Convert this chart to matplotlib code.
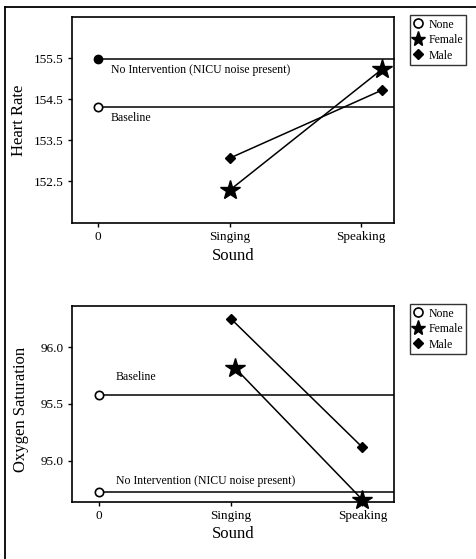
import matplotlib
matplotlib.use("Agg")
import matplotlib.pyplot as plt
from matplotlib.lines import Line2D

plt.rcParams['font.family'] = ['Liberation Serif', 'DejaVu Serif']

# ---- data ----
sound_ticks = [0, 1, 2]
sound_labels = ["0", "Singing", "Speaking"]

# Heart rate
hr_baseline = 154.30
hr_no_intervention = 155.47
hr_female_x = [1.0, 2.16]
hr_female = [152.28, 155.23]
hr_male_x = [1.0, 2.16]
hr_male = [153.06, 154.72]
hr_yticks = [152.5, 153.5, 154.5, 155.5]

# Oxygen saturation
o2_baseline = 95.58
o2_no_intervention = 94.73
o2_female_x = [1.03, 2.0]
o2_female = [95.82, 94.66]
o2_male_x = [1.0, 2.0]
o2_male = [96.25, 95.12]
o2_yticks = [95.0, 95.5, 96.0]

W, H = 476, 559
fig = plt.figure(figsize=(W / 100, H / 100), dpi=100)


def px_axes(left, top, right, bottom):
    return fig.add_axes([left / W, 1 - bottom / H, (right - left) / W, (bottom - top) / H])


def style(ax, ylabel, label_xy, yticks, fmt):
    for s in ax.spines.values():
        s.set_linewidth(1.2)
    ax.set_xticks(sound_ticks)
    ax.set_xticklabels(sound_labels)
    ax.set_yticks(yticks)
    ax.set_yticklabels([fmt.format(v) for v in yticks])
    ax.tick_params(direction='out', length=3, width=1, labelsize=9.5, pad=3)
    ax.set_xlabel("Sound", fontsize=12, labelpad=3)
    ax.set_ylabel(ylabel, fontsize=12)
    ax.yaxis.set_label_coords(*label_xy)


lw = 1.1
note_fs = 8.5

# ---- Heart rate panel ----
ax1 = px_axes(72, 17, 394, 223)
ax1.set_xlim(-0.2, 2.25)
ax1.set_ylim(151.48, 156.5)
ax1.plot([0, 2.25], [hr_no_intervention] * 2, color='black', lw=lw, marker='o',
         markevery=[0], ms=6, mfc='black', mec='black', clip_on=False)
ax1.plot([0, 2.25], [hr_baseline] * 2, color='black', lw=lw, marker='o',
         markevery=[0], ms=6, mfc='white', mec='black', mew=1.2)
ax1.plot(hr_male_x, hr_male, color='black', lw=lw, marker='D', ms=5, mfc='black')
ax1.plot(hr_female_x, hr_female, color='black', lw=lw, marker='*', ms=15, mfc='black')
ax1.annotate("No Intervention (NICU noise present)", (0, hr_no_intervention),
             xytext=(9, -8), textcoords='offset points', fontsize=note_fs,
             va='center', ha='left')
ax1.annotate("Baseline", (0, hr_baseline), xytext=(9, -8), textcoords='offset points',
             fontsize=note_fs, va='center', ha='left')
style(ax1, "Heart Rate", (-0.14, 0.5), hr_yticks, "{:.1f}")

# ---- Oxygen saturation panel ----
ax2 = px_axes(72, 306, 394, 502)
ax2.set_xlim(-0.205, 2.24)
ax2.set_ylim(94.64, 96.36)
ax2.plot([0, 2.24], [o2_baseline] * 2, color='black', lw=lw, marker='o',
         markevery=[0], ms=6, mfc='white', mec='black', mew=1.2)
ax2.plot([0, 2.24], [o2_no_intervention] * 2, color='black', lw=lw, marker='o',
         markevery=[0], ms=6, mfc='white', mec='black', mew=1.2)
ax2.plot(o2_male_x, o2_male, color='black', lw=lw, marker='D', ms=5, mfc='black')
ax2.plot(o2_female_x, o2_female, color='black', lw=lw, marker='*', ms=15, mfc='black',
         clip_on=False)
ax2.annotate("Baseline", (0, o2_baseline), xytext=(12, 13), textcoords='offset points',
             fontsize=note_fs, va='center', ha='left')
ax2.annotate("No Intervention (NICU noise present)", (0, o2_no_intervention),
             xytext=(12, 8), textcoords='offset points', fontsize=note_fs,
             va='center', ha='left')
style(ax2, "Oxygen Saturation", (-0.135, 0.47), o2_yticks, "{:.1f}")

# ---- legends ----
handles = [
    Line2D([], [], ls='none', marker='o', ms=6.5, mfc='white', mec='black', mew=1.2),
    Line2D([], [], ls='none', marker='*', ms=11, mfc='black', mec='black'),
    Line2D([], [], ls='none', marker='D', ms=5.5, mfc='black', mec='black'),
]
names = ["None", "Female", "Male"]
for top in (15, 304):
    leg = fig.legend(handles, names, loc='upper left',
                     bbox_to_anchor=(410 / W, 1 - top / H), fontsize=8.5,
                     frameon=True, fancybox=False, edgecolor='black',
                     handlelength=0.8, handletextpad=0.45, borderpad=0.3,
                     labelspacing=0.3, borderaxespad=0)
    leg.get_frame().set_linewidth(1.0)

# ---- page frame ----
fig.add_artist(Line2D([5 / W, 5 / W], [0, 1 - 7 / H], color='black', lw=1.3,
                      transform=fig.transFigure))
fig.add_artist(Line2D([5 / W, 1], [1 - 7 / H, 1 - 7 / H], color='black', lw=1.3,
                      transform=fig.transFigure))

fig.savefig("out.png", dpi=100)
